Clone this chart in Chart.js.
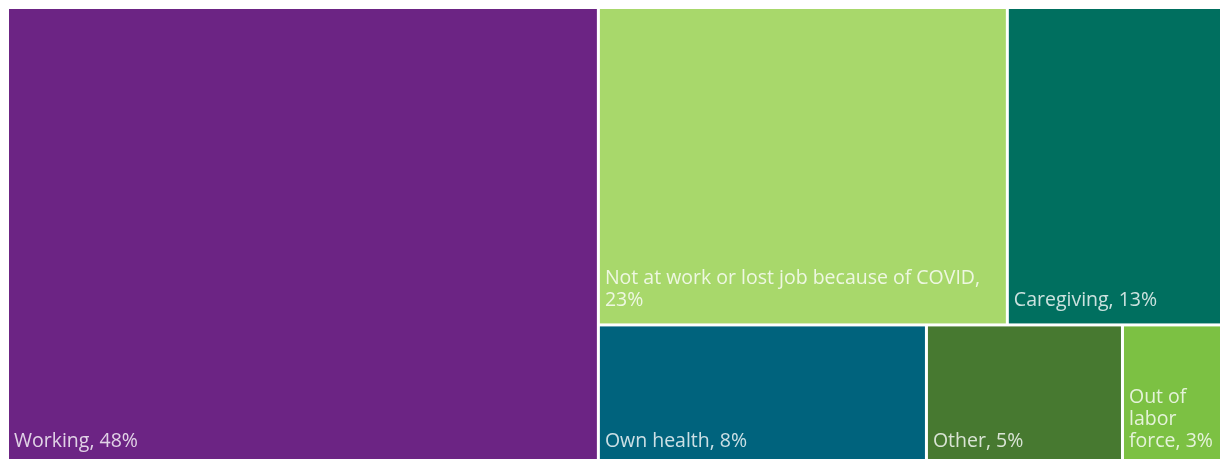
<!DOCTYPE html>
<html>
<head>
<meta charset="utf-8">
<script src="https://cdn.jsdelivr.net/npm/chart.js@4/dist/chart.umd.min.js"></script>
<style>
  html, body { margin: 0; padding: 0; background: #ffffff; overflow: hidden; }
  #wrap { position: absolute; left: 0; top: 0; width: 1240px; height: 468px; }
</style>
</head>
<body>
<div id="wrap"><canvas id="c" width="1240" height="468"></canvas></div>
<script>
// ---- data ----
const categories = ['Working', 'Not at work or lost job because of COVID', 'Caregiving', 'Own health', 'Other', 'Out of labor force'];
const shares = [48.0, 23.0, 13.0, 8.2, 4.9, 2.9];
const colors = ['#6c2484', '#a8d86b', '#006f5f', '#00637d', '#477930', '#7cc143'];
// grouping of the cells (indices): first column, then rows of the remaining block
const firstColumn = [0];
const rowsGroups = [[1, 2], [3, 4, 5]];

// ---- layout in data units (0..100 on both axes) ----
function layoutCells() {
  const total = shares.reduce((a, b) => a + b, 0);
  const cells = [];
  const colSum = firstColumn.reduce((a, i) => a + shares[i], 0);
  const colW = 100 * colSum / total;
  let y = 0;
  firstColumn.forEach(i => {
    const h = 100 * shares[i] / colSum;
    cells[i] = { x0: 0, x1: colW, y0: y, y1: y + h };
    y += h;
  });
  const restSum = total - colSum;
  let ry = 0;
  rowsGroups.forEach(row => {
    const rs = row.reduce((a, i) => a + shares[i], 0);
    const rh = 100 * rs / restSum;
    let rx = colW;
    row.forEach(i => {
      const w = (100 - colW) * shares[i] / rs;
      cells[i] = { x0: rx, x1: rx + w, y0: ry, y1: ry + rh };
      rx += w;
    });
    ry += rh;
  });
  return cells;
}

function wrapText(ctx, text, maxW) {
  const words = text.split(' ');
  const lines = [];
  let cur = '';
  words.forEach(w => {
    const t = cur ? cur + ' ' + w : w;
    if (ctx.measureText(t).width > maxW && cur) { lines.push(cur); cur = w; }
    else cur = t;
  });
  if (cur) lines.push(cur);
  return lines;
}

const treemapPlugin = {
  id: 'treemapCells',
  afterDatasetsDraw(chart) {
    const ctx = chart.ctx;
    const xs = chart.scales.x, ys = chart.scales.y;
    const cells = layoutCells();
    const gap = 1.5;
    const visibleRight = Math.min(chart.width, window.innerWidth || chart.width);
    ctx.save();
    cells.forEach((c, i) => {
      const px0 = xs.getPixelForValue(c.x0) + gap;
      const px1 = xs.getPixelForValue(c.x1) - gap;
      const py0 = ys.getPixelForValue(c.y0) + gap;
      const py1 = ys.getPixelForValue(c.y1) - gap;
      ctx.fillStyle = colors[i];
      ctx.fillRect(px0, py0, px1 - px0, py1 - py0);
      // label
      ctx.font = '19.5px "Open Sans"';
      ctx.fillStyle = 'rgba(255,255,255,0.8)';
      ctx.textBaseline = 'middle';
      ctx.textAlign = 'left';
      const label = categories[i] + ', ' + Math.round(shares[i]) + '%';
      const lines = wrapText(ctx, label, Math.min(px1, visibleRight) - px0 - 8);
      const lh = 22;
      let ly = py1 - 23 - (lines.length - 1) * lh;
      lines.forEach(l => { ctx.fillText(l, px0 + 5, ly); ly += lh; });
    });
    ctx.restore();
  }
};

new Chart(document.getElementById('c'), {
  type: 'scatter',
  data: { datasets: [{ data: [], pointRadius: 0 }] },
  options: {
    responsive: false,
    animation: false,
    layout: { padding: { left: 7.5, right: 1.5, top: 7.5, bottom: 2 } },
    plugins: { legend: { display: false }, tooltip: { enabled: false } },
    scales: {
      x: { type: 'linear', min: 0, max: 100, display: false },
      y: { type: 'linear', min: 0, max: 100, reverse: true, display: false }
    }
  },
  plugins: [treemapPlugin]
});
</script>
</body>
</html>
